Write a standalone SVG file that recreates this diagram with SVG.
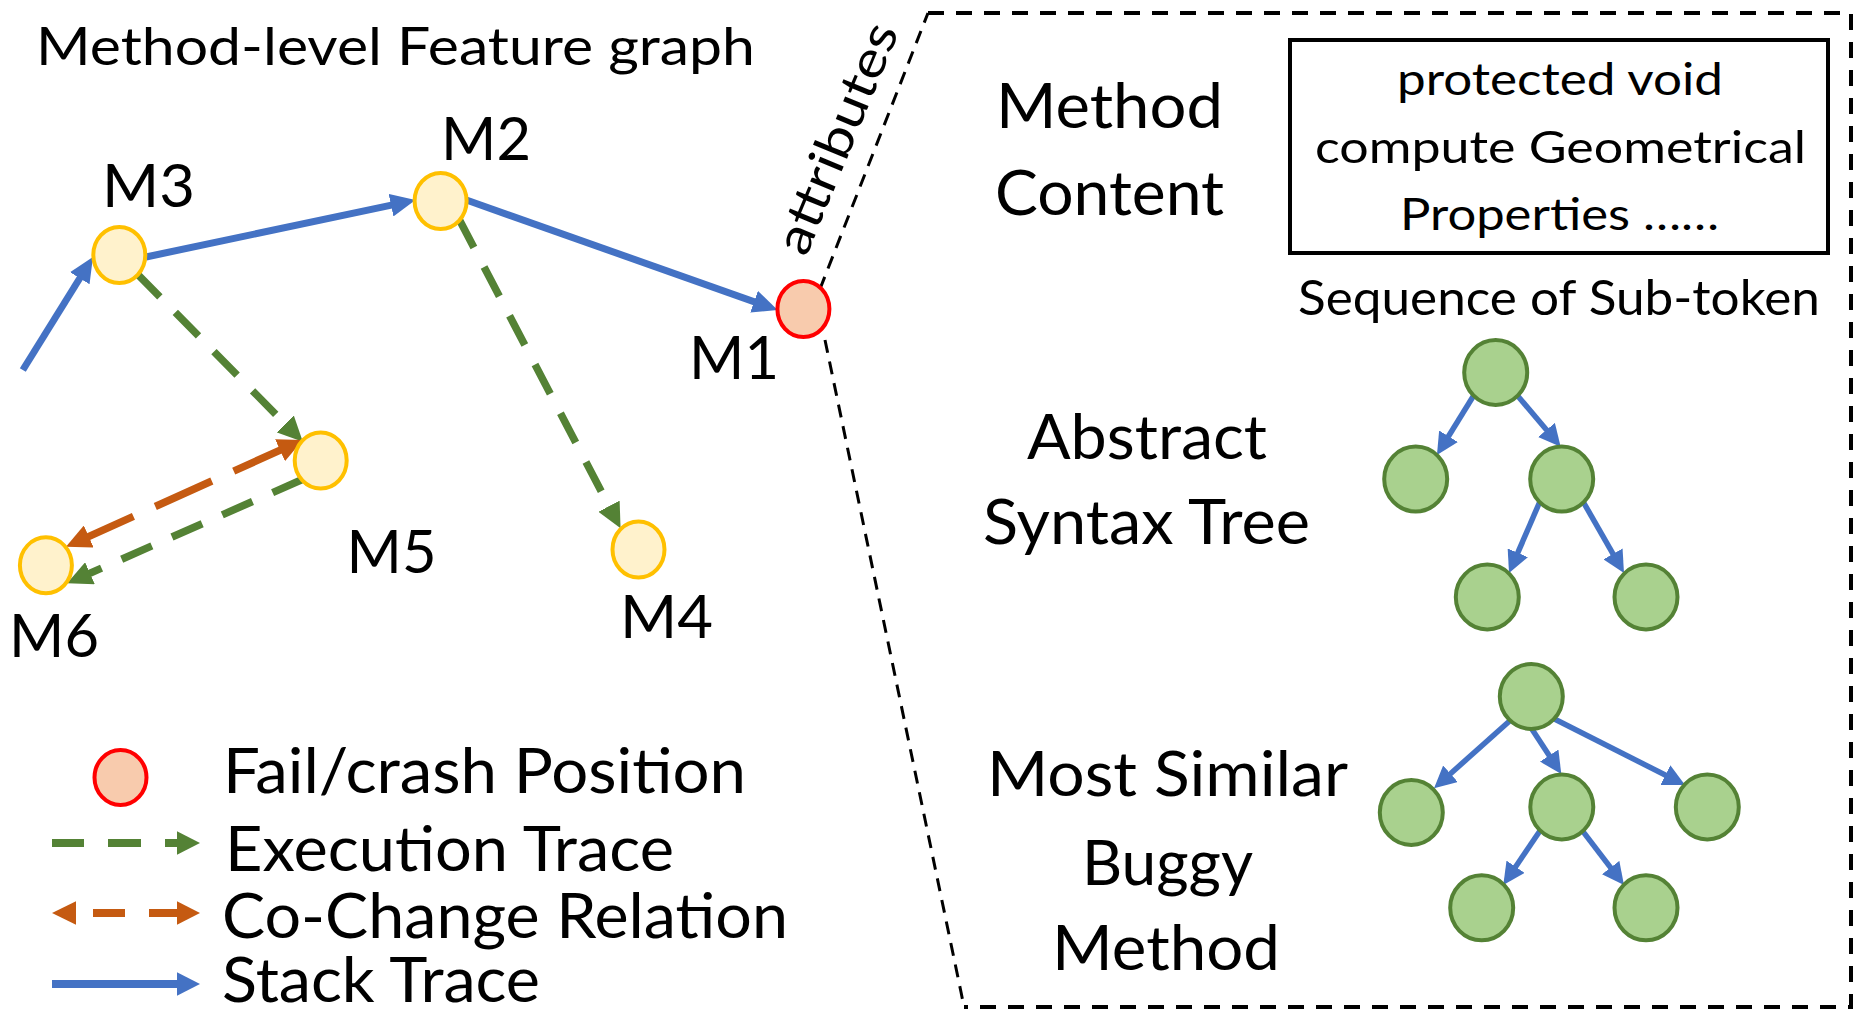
<svg xmlns="http://www.w3.org/2000/svg" width="1869" height="1024" viewBox="0 0 1869 1024">
<style>
  text { font-family: Lato, "Liberation Sans", sans-serif; fill: #000; }
  .mlab { font-size: 60px; }
  .leg { font-size: 61px; }
  .big { font-size: 62px; }
  .box { font-size: 45px; }
  .gnode { fill: #FFF2CC; stroke: #FFC000; stroke-width: 4; }
  .fnode { fill: #F8CBAD; stroke: #FF0000; stroke-width: 4; }
  .tnode { fill: #A9D18E; stroke: #548235; stroke-width: 4; }
  .stack { stroke: #4472C4; stroke-width: 7; fill: none; marker-end: url(#ahBlue); }
  .tree { stroke: #4472C4; stroke-width: 5.5; fill: none; marker-end: url(#ahTree); }
  .exec { stroke: #548235; stroke-width: 7.5; fill: none; stroke-dasharray: 33 22; marker-end: url(#ahGreen); }
  .cochg { stroke: #C55A11; stroke-width: 7.5; fill: none; stroke-dasharray: 62 24; marker-start: url(#ahOrange); marker-end: url(#ahOrange); }
  .frame { stroke: #000; stroke-width: 4; fill: none; stroke-dasharray: 16 12; }
  .diag { stroke: #000; stroke-width: 3; fill: none; stroke-dasharray: 13 9; }
</style>
<defs>
  <marker id="ahBlue" markerUnits="userSpaceOnUse" markerWidth="25" markerHeight="23" refX="15" refY="11.5" orient="auto">
    <path d="M0,0 L25,11.5 L0,23 z" fill="#4472C4"/>
  </marker>
  <marker id="ahTree" markerUnits="userSpaceOnUse" markerWidth="22" markerHeight="22" refX="12" refY="11" orient="auto">
    <path d="M0,0 L22,11 L0,22 z" fill="#4472C4"/>
  </marker>
  <marker id="ahGreen" markerUnits="userSpaceOnUse" markerWidth="25" markerHeight="24" refX="13" refY="12" orient="auto">
    <path d="M0,0 L25,12 L0,24 z" fill="#548235"/>
  </marker>
  <marker id="ahOrange" markerUnits="userSpaceOnUse" markerWidth="25" markerHeight="24" refX="13" refY="12" orient="auto-start-reverse">
    <path d="M0,0 L25,12 L0,24 z" fill="#C55A11"/>
  </marker>
</defs>
<rect width="1869" height="1024" fill="#fff"/>

<text id="title" x="36" y="65" font-size="53" textLength="719" lengthAdjust="spacingAndGlyphs">Method-level Feature graph</text>

<g id="connectors">
  <line class="stack" x1="22.8" y1="370" x2="87.7" y2="265.5"/>
  <line class="stack" x1="146" y1="257" x2="405.7" y2="202.1"/>
  <line class="stack" x1="466.4" y1="200" x2="768.2" y2="306.7"/>
  <line class="exec" x1="136.7" y1="273.3" x2="294.4" y2="433.2"/>
  <line class="exec" x1="458.6" y1="218.3" x2="615" y2="517.7"/>
  <line class="exec" x1="302.8" y1="479.3" x2="78.1" y2="578.5"/>
  <line class="cochg" x1="76.9" y1="541.8" x2="291.9" y2="444.9"/>
  <!-- attributes link / detail frame -->
  <path class="diag" d="M820,289 L928,13"/>
  <path class="diag" d="M825,340 L961,992 L964,1007"/>
  <path class="frame" d="M928,13 L1851,13 L1851,1007 L964,1007"/>
  <!-- AST tree edges -->
  <line class="tree" x1="1474" y1="395" x2="1442.2" y2="446.5"/>
  <line class="tree" x1="1517" y1="395" x2="1554.2" y2="439.1"/>
  <line class="tree" x1="1539.7" y1="502" x2="1513" y2="563.8"/>
  <line class="tree" x1="1583.3" y1="502" x2="1619" y2="564.3"/>
  <!-- similar buggy method tree edges -->
  <line class="tree" x1="1510.7" y1="720" x2="1441.5" y2="781.7"/>
  <line class="tree" x1="1530.7" y1="727.3" x2="1555.8" y2="765.6"/>
  <line class="tree" x1="1553" y1="718.3" x2="1676.1" y2="780.5"/>
  <line class="tree" x1="1540" y1="830.7" x2="1508.9" y2="876.7"/>
  <line class="tree" x1="1582.3" y1="830.7" x2="1617.9" y2="877.1"/>
</g>

<text id="attr-label" transform="translate(806,258) rotate(-67.6)" font-size="50" textLength="245" lengthAdjust="spacingAndGlyphs">attributes</text>

<g id="M1"><ellipse class="fnode" cx="803.4" cy="309" rx="26" ry="28"/><text class="mlab" x="689" y="379" textLength="90" lengthAdjust="spacingAndGlyphs">M1</text></g>
<g id="M2"><ellipse class="gnode" cx="440.6" cy="201" rx="26" ry="28"/><text class="mlab" x="441" y="160" textLength="90" lengthAdjust="spacingAndGlyphs">M2</text></g>
<g id="M3"><ellipse class="gnode" cx="119.3" cy="255" rx="26" ry="28"/><text class="mlab" x="102" y="207" textLength="93" lengthAdjust="spacingAndGlyphs">M3</text></g>
<g id="M4"><ellipse class="gnode" cx="638.5" cy="549.5" rx="26" ry="28"/><text class="mlab" x="620" y="638" textLength="93" lengthAdjust="spacingAndGlyphs">M4</text></g>
<g id="M5"><ellipse class="gnode" cx="320.7" cy="460.5" rx="26" ry="28"/><text class="mlab" x="346.5" y="572.7" textLength="90" lengthAdjust="spacingAndGlyphs">M5</text></g>
<g id="M6"><ellipse class="gnode" cx="45.9" cy="565.3" rx="26" ry="28"/><text class="mlab" x="9" y="657" textLength="90" lengthAdjust="spacingAndGlyphs">M6</text></g>

<g id="legend">
  <g id="legend-fail">
    <ellipse class="fnode" cx="120.5" cy="777.5" rx="26" ry="27.5"/>
    <text class="leg" x="223" y="793" textLength="523" lengthAdjust="spacingAndGlyphs">Fail/crash Position</text>
  </g>
  <g id="legend-exec">
    <rect x="52" y="839" width="32" height="8" fill="#548235"/>
    <rect x="108" y="839" width="33" height="8" fill="#548235"/>
    <rect x="165" y="839" width="15" height="8" fill="#548235"/>
    <polygon points="177,831.3 200,843 177,854.7" fill="#548235"/>
    <text class="leg" x="225" y="871" textLength="449" lengthAdjust="spacingAndGlyphs">Execution Trace</text>
  </g>
  <g id="legend-cochange">
    <polygon points="76,901.3 52,913 76,924.7" fill="#C55A11"/>
    <rect x="93" y="909" width="32" height="8" fill="#C55A11"/>
    <rect x="149" y="909" width="30" height="8" fill="#C55A11"/>
    <polygon points="177,901.3 200,913 177,924.7" fill="#C55A11"/>
    <text class="leg" x="222" y="938" textLength="566" lengthAdjust="spacingAndGlyphs">Co-Change Relation</text>
  </g>
  <g id="legend-stack">
    <rect x="52" y="980" width="128" height="8" fill="#4472C4"/>
    <polygon points="177,972.3 200,984 177,995.7" fill="#4472C4"/>
    <text class="leg" x="222" y="1002" textLength="318" lengthAdjust="spacingAndGlyphs">Stack Trace</text>
  </g>
</g>

<g id="method-content">
  <text class="big" x="996" y="128" textLength="227" lengthAdjust="spacingAndGlyphs">Method</text>
  <text class="big" x="995" y="215" textLength="229" lengthAdjust="spacingAndGlyphs">Content</text>
  <rect x="1290" y="40" width="538" height="213" fill="none" stroke="#000" stroke-width="4"/>
  <text class="box" x="1397" y="95" textLength="326" lengthAdjust="spacingAndGlyphs">protected void</text>
  <text class="box" x="1315" y="163" textLength="491" lengthAdjust="spacingAndGlyphs">compute Geometrical</text>
  <text class="box" x="1400" y="230" textLength="319" lengthAdjust="spacingAndGlyphs">Properties ……</text>
  <text x="1298" y="315" font-size="48" textLength="522" lengthAdjust="spacingAndGlyphs">Sequence of Sub-token</text>
</g>

<g id="ast">
  <text class="big" x="1027" y="458.6" textLength="240" lengthAdjust="spacingAndGlyphs">Abstract</text>
  <text class="big" x="983" y="543.5" textLength="327" lengthAdjust="spacingAndGlyphs">Syntax Tree</text>
  <g id="ast-root"><ellipse class="tnode" cx="1495.7" cy="372.5" rx="31.5" ry="32.5"/></g>
  <g id="ast-l"><ellipse class="tnode" cx="1415.7" cy="479" rx="31.5" ry="32.5"/></g>
  <g id="ast-r"><ellipse class="tnode" cx="1561.7" cy="479" rx="31.5" ry="32.5"/></g>
  <g id="ast-rl"><ellipse class="tnode" cx="1487.3" cy="597" rx="31.5" ry="32.5"/></g>
  <g id="ast-rr"><ellipse class="tnode" cx="1646" cy="597" rx="31.5" ry="32.5"/></g>
</g>

<g id="similar">
  <text class="big" x="987" y="796" textLength="361" lengthAdjust="spacingAndGlyphs">Most Similar</text>
  <text class="big" x="1082" y="885" textLength="171" lengthAdjust="spacingAndGlyphs">Buggy</text>
  <text class="big" x="1052" y="970" textLength="228" lengthAdjust="spacingAndGlyphs">Method</text>
  <g id="sim-root"><ellipse class="tnode" cx="1531.3" cy="696.5" rx="31.5" ry="32.5"/></g>
  <g id="sim-l"><ellipse class="tnode" cx="1411.3" cy="812.5" rx="31.5" ry="32.5"/></g>
  <g id="sim-m"><ellipse class="tnode" cx="1561.8" cy="807" rx="31.5" ry="32.5"/></g>
  <g id="sim-r"><ellipse class="tnode" cx="1707.3" cy="807" rx="31.5" ry="32.5"/></g>
  <g id="sim-ml"><ellipse class="tnode" cx="1481.7" cy="907.8" rx="31.5" ry="32.5"/></g>
  <g id="sim-mr"><ellipse class="tnode" cx="1646" cy="907.8" rx="31.5" ry="32.5"/></g>
</g>
</svg>
